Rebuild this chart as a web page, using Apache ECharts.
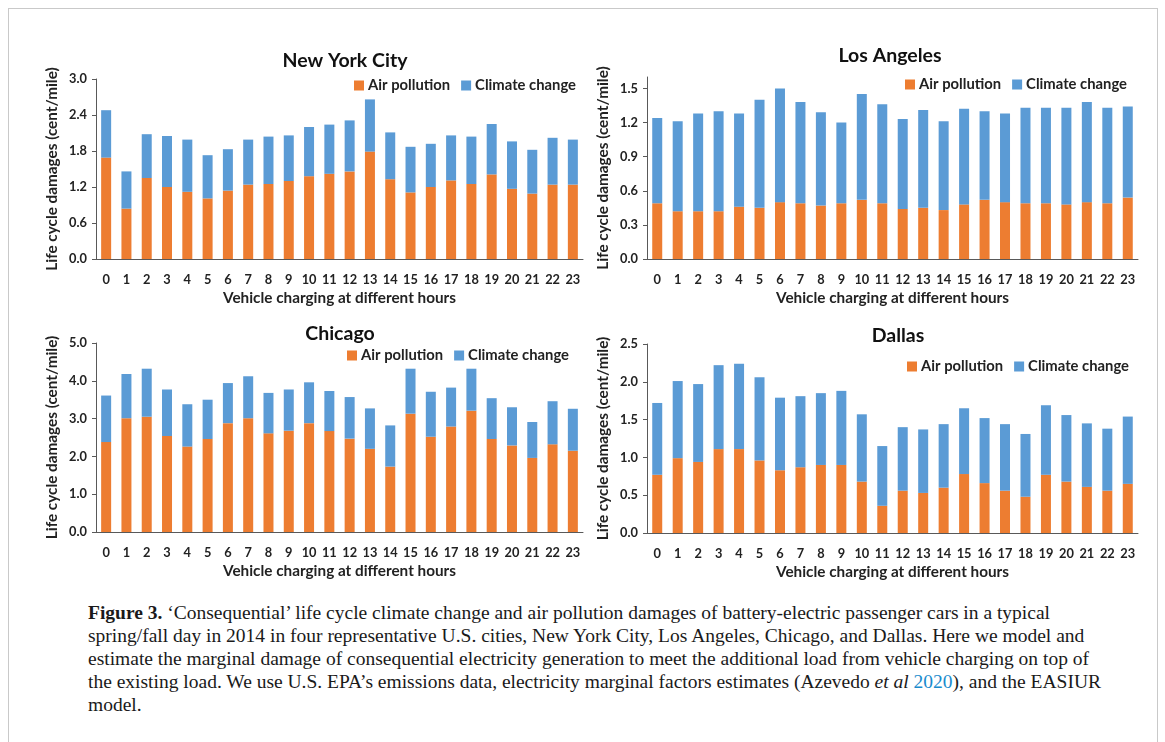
<!DOCTYPE html>
<html>
<head>
<meta charset="utf-8">
<script src="https://cdn.jsdelivr.net/npm/echarts@6/dist/echarts.min.js"></script>
<style>
  html, body { margin: 0; padding: 0; background: #fff; overflow: hidden; }
  #frame { position: absolute; left: 8px; top: 8px; width: 1148px; height: 800px; border: 1px solid #c9c9c9; }
  #chart { position: absolute; left: 0; top: 0; width: 1165px; height: 600px; }
  #caption { position: absolute; left: 88px; top: 601px; width: 1060px; font-family: "Liberation Serif", "DejaVu Serif", serif;
    font-size: 19.5px; line-height: 23px; color: #1a1a1a; white-space: nowrap; }
  #caption a { color: #1a8bcd; text-decoration: none; }
</style>
</head>
<body>
<div id="frame"></div>
<div id="chart"></div>
<div id="caption">
  <b>Figure 3.</b> ‘Consequential’ life cycle climate change and air pollution damages of battery-electric passenger cars in a typical<br>
  spring/fall day in 2014 in four representative U.S. cities, New York City, Los Angeles, Chicago, and Dallas. Here we model and<br>
  estimate the marginal damage of consequential electricity generation to meet the additional load from vehicle charging on top of<br>
  the existing load. We use U.S. EPA’s emissions data, electricity marginal factors estimates (Azevedo <i>et al</i> <a>2020</a>), and the EASIUR<br>
  model.
</div>
<script>
  // hours 0..23
  var hours = ['0','1','2','3','4','5','6','7','8','9','10','11','12','13','14','15','16','17','18','19','20','21','22','23'];
  var seriesNames = ['Air pollution', 'Climate change'];
  var cities = ['New York City', 'Los Angeles', 'Chicago', 'Dallas'];

  // stacked segments, cent/mile
  var nycAir = [1.69,0.84,1.35,1.20,1.12,1.01,1.14,1.24,1.25,1.30,1.38,1.42,1.46,1.79,1.33,1.11,1.20,1.31,1.25,1.41,1.17,1.09,1.24,1.24];
  var nycClimate = [0.79,0.62,0.73,0.85,0.87,0.72,0.69,0.75,0.79,0.76,0.82,0.82,0.85,0.87,0.78,0.76,0.72,0.75,0.79,0.84,0.79,0.73,0.78,0.75];
  var laAir = [0.49,0.42,0.42,0.42,0.46,0.45,0.50,0.49,0.47,0.49,0.52,0.49,0.44,0.45,0.43,0.48,0.52,0.50,0.49,0.49,0.48,0.50,0.49,0.54];
  var laClimate = [0.75,0.79,0.86,0.88,0.82,0.95,1.00,0.89,0.82,0.71,0.93,0.87,0.79,0.86,0.78,0.84,0.78,0.78,0.84,0.84,0.85,0.88,0.84,0.80];
  var chiAir = [2.38,3.01,3.05,2.54,2.26,2.46,2.88,3.01,2.61,2.68,2.88,2.67,2.47,2.20,1.73,3.13,2.52,2.79,3.21,2.46,2.29,1.96,2.32,2.15];
  var chiClimate = [1.23,1.17,1.27,1.23,1.12,1.04,1.06,1.11,1.07,1.09,1.08,1.06,1.10,1.07,1.09,1.19,1.19,1.03,1.11,1.08,1.01,0.95,1.14,1.11];
  var dalAir = [0.77,0.99,0.94,1.11,1.11,0.96,0.83,0.87,0.90,0.90,0.68,0.36,0.56,0.53,0.60,0.78,0.66,0.56,0.48,0.77,0.68,0.61,0.56,0.65];
  var dalClimate = [0.95,1.02,1.03,1.11,1.13,1.10,0.96,0.94,0.95,0.98,0.89,0.79,0.84,0.84,0.84,0.87,0.86,0.88,0.83,0.92,0.88,0.84,0.82,0.89];

  // y tick labels per panel
  var nycTicks = [0, 0.6, 1.2, 1.8, 2.4, 3.0];
  var laTicks = [0, 0.3, 0.6, 0.9, 1.2, 1.5];
  var chiTicks = [0, 1, 2, 3, 4, 5];
  var dalTicks = [0, 0.5, 1.0, 1.5, 2.0, 2.5];

  var airData = [nycAir, laAir, chiAir, dalAir];
  var climateData = [nycClimate, laClimate, chiClimate, dalClimate];
  var tickSets = [nycTicks, laTicks, chiTicks, dalTicks];
  var yMax = [3.0, 1.6, 5.0, 2.5];

  var font = 'Lato, "Open Sans", sans-serif';
  var colors = ['#ED7D31', '#5B9BD5'];

  var grids = [
    {left: 96, top: 79, width: 487, height: 180},
    {left: 647, top: 77, width: 491, height: 182},
    {left: 96, top: 343, width: 487, height: 189},
    {left: 647, top: 344, width: 491, height: 189}
  ];
  var titlePos = [
    {left: 340, top: 46}, {left: 885, top: 41}, {left: 335, top: 319}, {left: 893, top: 321}
  ];
  var legendPos = [
    {left: 349, top: 73}, {left: 900, top: 72}, {left: 342, top: 343}, {left: 902, top: 354}
  ];

  var myChart = echarts.init(document.getElementById('chart'));
  var option = {
    animation: false,
    color: colors,
    title: [], legend: [], grid: [], xAxis: [], yAxis: [], series: []
  };

  cities.forEach(function(city, i) {
    option.title.push({
      text: city, left: titlePos[i].left, top: titlePos[i].top, textAlign: 'center',
      textStyle: {fontFamily: font, fontSize: 19.5, fontWeight: 'bold', color: '#111'}
    });
    option.legend.push({
      data: seriesNames, left: legendPos[i].left, top: legendPos[i].top,
      icon: 'rect', itemWidth: 10, itemHeight: 10, itemGap: 11,
      textStyle: {fontFamily: font, fontSize: 14.8, fontWeight: 'bold', color: '#222', padding: [0, 0, 0, -1]}
    });
    option.grid.push(grids[i]);
    option.xAxis.push({
      type: 'category', gridIndex: i, data: hours,
      name: 'Vehicle charging at different hours', nameLocation: 'middle', nameGap: 32,
      nameTextStyle: {fontFamily: font, fontSize: 15.3, fontWeight: 'bold', color: '#222'},
      axisLine: {lineStyle: {color: '#595959', width: 1}},
      axisTick: {show: false},
      axisLabel: {interval: 0, margin: 14, fontFamily: font, fontSize: 12.8, fontWeight: 'bold', color: '#222'}
    });
    option.yAxis.push({
      type: 'value', gridIndex: i, min: 0, max: yMax[i],
      name: 'Life cycle damages (cent/mile)', nameLocation: 'middle', nameRotate: 90, nameGap: 36,
      nameTextStyle: {fontFamily: font, fontSize: 15.3, fontWeight: 'bold', color: '#222'},
      axisLine: {show: true, lineStyle: {color: '#595959', width: 1}},
      axisTick: {show: true, length: 4, customValues: tickSets[i], lineStyle: {color: '#595959'}},
      axisLabel: {
        customValues: tickSets[i], margin: 9, fontFamily: font, fontSize: 12.8, fontWeight: 'bold', color: '#222',
        formatter: function(v) { return v.toFixed(1); }
      },
      splitLine: {show: false}
    });
    option.series.push({
      name: seriesNames[0], type: 'bar', stack: 'c' + i, xAxisIndex: i, yAxisIndex: i,
      barWidth: 10, data: airData[i], itemStyle: {color: colors[0]}
    });
    option.series.push({
      name: seriesNames[1], type: 'bar', stack: 'c' + i, xAxisIndex: i, yAxisIndex: i,
      barWidth: 10, data: climateData[i], itemStyle: {color: colors[1]}
    });
  });

  myChart.setOption(option);
</script>
</body>
</html>
